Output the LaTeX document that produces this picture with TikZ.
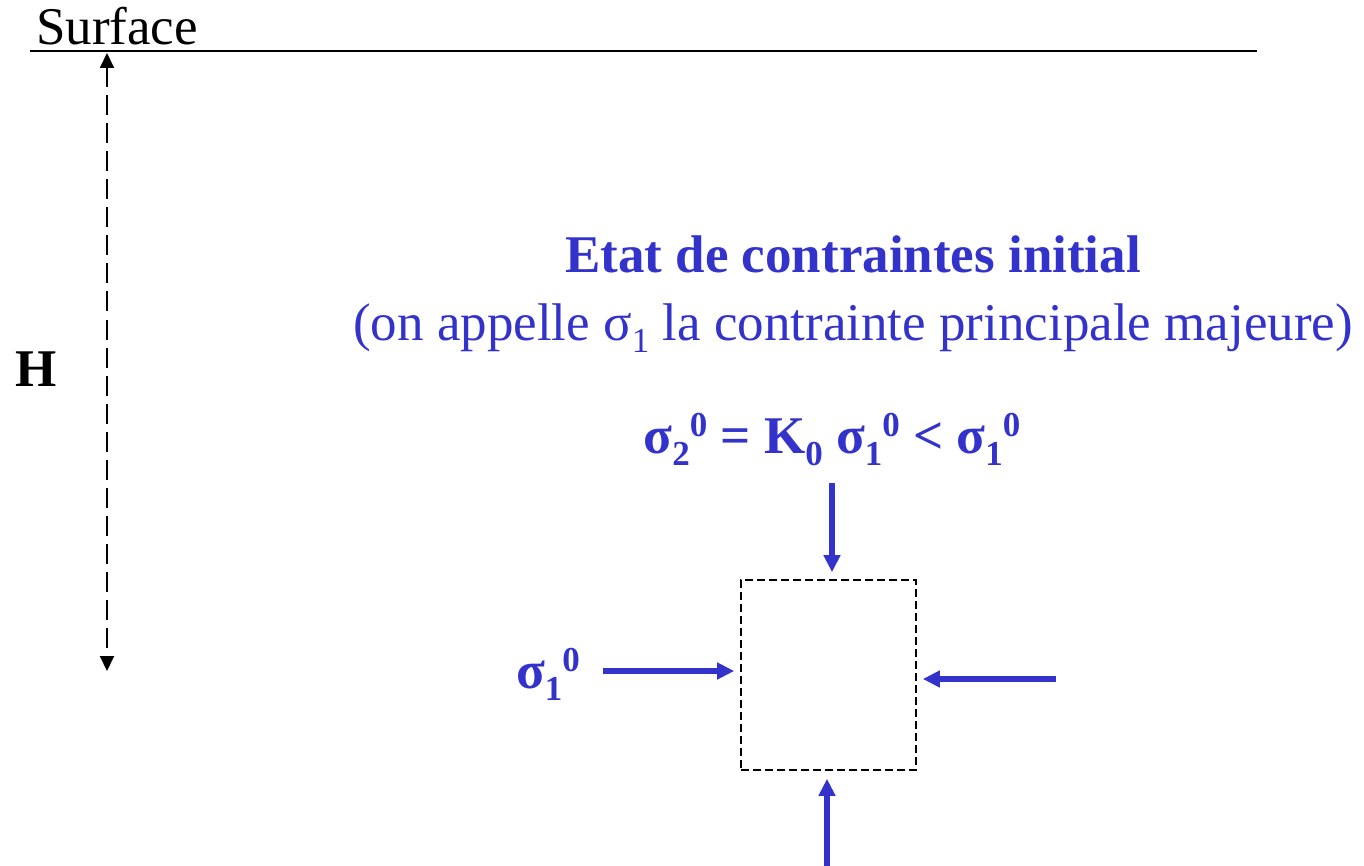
\documentclass[tikz,border=0pt]{standalone}
\usepackage{fontspec}
\setmainfont{Liberation Serif}
\usetikzlibrary{arrows.meta}
\definecolor{sblue}{RGB}{51,51,204}
\newcommand{\lowsub}[1]{\raisebox{-12pt}{\fontsize{35}{40}\selectfont #1}}
\newcommand{\highsup}[1]{\raisebox{17pt}{\fontsize{35}{40}\selectfont #1}}
\tikzset{
  txt/.style={inner sep=0pt, anchor=base, font=\fontsize{53}{60}\selectfont},
  btxt/.style={txt, text=sblue, font=\fontsize{53}{60}\selectfont\bfseries},
  rtxt/.style={txt, text=sblue},
  force/.style={draw=sblue, line width=5.5pt, -{Triangle[length=17pt,width=16pt]}},
  depth/.style={draw=black, line width=2pt, dash pattern=on 20pt off 8pt, {Triangle[length=15pt,width=14pt]}-{Triangle[length=15pt,width=14pt]}},
  elem/.style={draw=black, line width=1.6pt, dash pattern=on 8pt off 4pt, rectangle, inner sep=0pt, minimum width=175pt, minimum height=190pt}
}
\begin{document}
\begin{tikzpicture}[x=1pt,y=-1pt]
\useasboundingbox (0,0) rectangle (1364,866);
% surface
\node[txt, anchor=base west] (surf) at (36,45) {Surface};
\coordinate (sl) at (30,51);
\coordinate (sr) at (1257,51);
\draw[line width=2pt] (sl) -- (sr);
% depth
\coordinate (dtop) at (107,53);
\coordinate (dbot) at (107,671);
\draw[depth] (dtop) -- (dbot);
\node[txt, font=\fontsize{53}{60}\selectfont\bfseries] (H) at (36,386) {H};
% titles
\node[btxt] (title) at (853,273) {Etat de contraintes initial};
\node[rtxt] (sub) at (853,340) {(on appelle σ\lowsub{1} la contrainte principale majeure)};
\node[btxt] (k0) at (832,453) {σ\lowsub{2}\highsup{0} = K\lowsub{0} σ\lowsub{1}\highsup{0} < σ\lowsub{1}\highsup{0}};
% element
\node[elem] (box) at (828.5,675) {};
\coordinate (ts) at (832,483);
\coordinate (ls) at (603,671);
\coordinate (rs) at (1056,679);
\coordinate (bs) at (827,866);
\draw[force, shorten >=7pt] (ts) -- (ts |- box.north);
\draw[force, shorten >=6pt] (ls) -- (ls -| box.west);
\draw[force, shorten >=6pt] (rs) -- (rs -| box.east);
\draw[force, shorten >=8pt] (bs) -- (bs |- box.south);
\node[btxt] (s1) at (548,688) {σ\lowsub{1}\highsup{0}};
\end{tikzpicture}
\end{document}
